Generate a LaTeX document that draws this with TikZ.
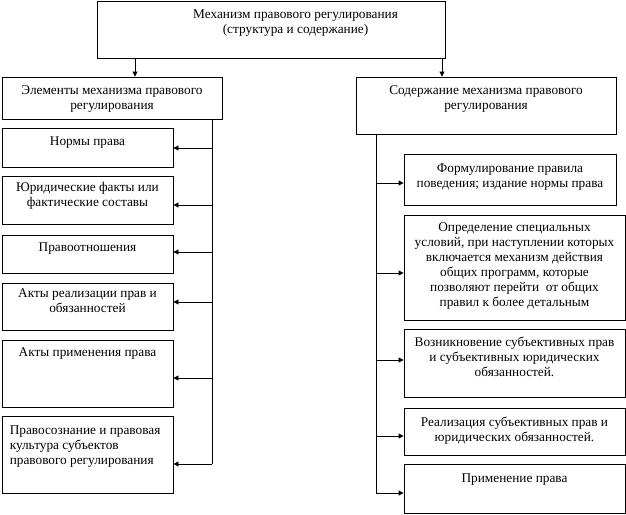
\documentclass[tikz,border=0pt]{standalone}
\usepackage{fontspec}
\setmainfont{Liberation Serif}
\usetikzlibrary{arrows.meta,calc,fit}
\begin{document}
\begin{tikzpicture}[x=1pt,y=-1pt,
  box/.style={draw, line width=0.9pt, inner sep=0pt},
  txt/.style={font=\fontsize{13.3}{15}\selectfont, align=center, inner sep=0pt, anchor=north, execute at begin node=\strut},
  ltxt/.style={font=\fontsize{13.3}{15}\selectfont, align=left, inner sep=0pt, anchor=north west, execute at begin node=\strut},
  ln/.style={line width=0.9pt},
  arr/.style={line width=0.9pt, -{Triangle[length=5pt,width=5pt]}}]
\useasboundingbox (0,0) rectangle (626,514);
% top
\node[box, fit={(97,1) (445,58)}] (top) {};
\node[txt] (topt) at ($(top.north west)+(199,9)$) {Механизм правового регулирования\\(структура и содержание)};
% left column
\node[box, fit={(2,77) (222,119)}] (el) {};
\node[txt] (elt) at ($(el.north)+(0,9)$) {Элементы механизма правового\\регулирования};
\node[box, fit={(2,128) (173,167)}] (n1) {};
\node[txt] (n1t) at ($(n1.north)+(0,7)$) {Нормы права};
\node[box, fit={(2,176) (173,224)}] (n2) {};
\node[txt] (n2t) at ($(n2.north)+(0,7)$) {Юридические факты или\\фактические составы};
\node[box, fit={(2,235) (173,273)}] (n3) {};
\node[txt] (n3t) at ($(n3.north)+(0,6)$) {Правоотношения};
\node[box, fit={(2,283) (173,330)}] (n4) {};
\node[txt] (n4t) at ($(n4.north)+(0,6)$) {Акты реализации прав и\\обязанностей};
\node[box, fit={(2,340) (173,407)}] (n5) {};
\node[txt] (n5t) at ($(n5.north)+(0,6)$) {Акты применения права};
\node[box, fit={(2,416) (173,493)}] (n6) {};
\node[ltxt] (n6t) at ($(n6.north west)+(8,10)$) {Правосознание и правовая\\культура субъектов\\правового регулирования};
% right column
\node[box, fit={(356,77) (616,134)}] (co) {};
\node[txt] (cot) at ($(co.north)+(0,9)$) {Содержание механизма правового\\регулирования};
\node[box, fit={(404,154) (616,205)}] (m1) {};
\node[txt] (m1t) at ($(m1.north)+(0,10)$) {Формулирование правила\\поведения; издание нормы права};
\node[box, fit={(404,215) (625,320)}] (m2) {};
\node[txt] (m2t) at ($(m2.north)+(0,8)$) {Определение специальных\\условий, при наступлении которых\\включается механизм действия\\общих программ, которые\\позволяют перейти\ \ от общих\\правил к более детальным};
\node[box, fit={(404,329) (625,397)}] (m3) {};
\node[txt] (m3t) at ($(m3.north)+(0,8)$) {Возникновение субъективных прав\\и субъективных юридических\\обязанностей.};
\node[box, fit={(404,408) (625,455)}] (m4) {};
\node[txt] (m4t) at ($(m4.north)+(0,9)$) {Реализация субъективных прав и\\юридических обязанностей.};
\node[box, fit={(404,464) (625,513)}] (m5) {};
\node[txt] (m5t) at ($(m5.north)+(0,8)$) {Применение права};
% connector coordinates
\coordinate (ax1) at (135,0);
\coordinate (ax2) at (442,0);
\coordinate (L1) at (212,148);
\coordinate (L2) at (212,205);
\coordinate (L3) at (212,252);
\coordinate (L4) at (212,302);
\coordinate (L5) at (212,378);
\coordinate (L6) at (212,464);
\coordinate (R1) at (376,183);
\coordinate (R2) at (376,273);
\coordinate (R3) at (376,360);
\coordinate (R4) at (376,436);
\coordinate (R5) at (376,493);
% connectors
\draw[arr] (top.south -| ax1) -- (el.north -| ax1);
\draw[arr] (top.south -| ax2) -- (co.north -| ax2);
\draw[ln] (el.south -| L1) -- (L6);
\draw[arr] (L1) -- (L1 -| n1.east);
\draw[arr] (L2) -- (L2 -| n2.east);
\draw[arr] (L3) -- (L3 -| n3.east);
\draw[arr] (L4) -- (L4 -| n4.east);
\draw[arr] (L5) -- (L5 -| n5.east);
\draw[arr] (L6) -- (L6 -| n6.east);
\draw[ln] (co.south -| R1) -- (R5);
\draw[arr] (R1) -- (R1 -| m1.west);
\draw[arr] (R2) -- (R2 -| m2.west);
\draw[arr] (R3) -- (R3 -| m3.west);
\draw[arr] (R4) -- (R4 -| m4.west);
\draw[arr] (R5) -- (R5 -| m5.west);
\end{tikzpicture}
\end{document}
